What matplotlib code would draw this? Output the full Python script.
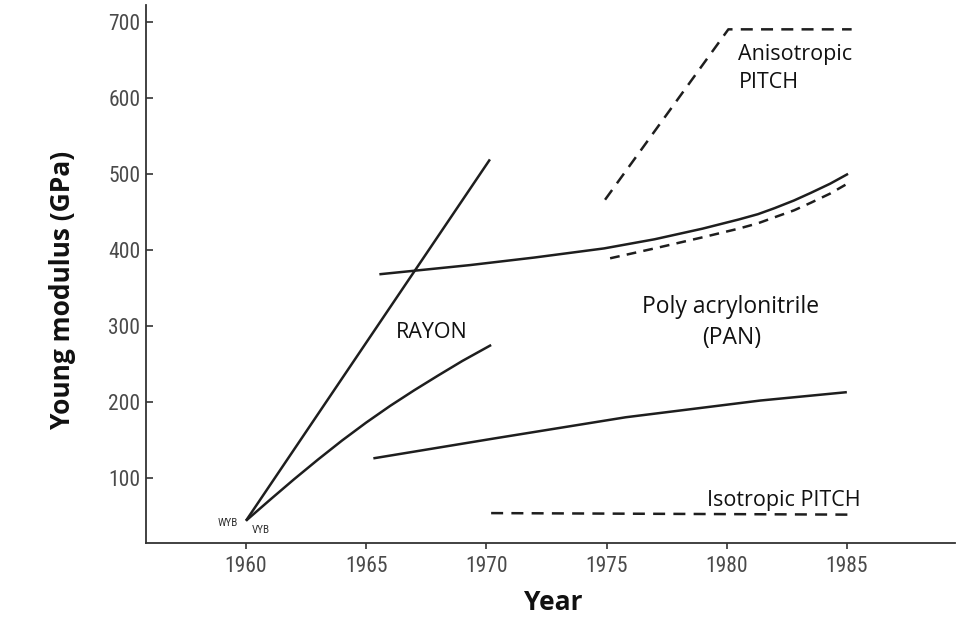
import matplotlib
matplotlib.use("Agg")
import matplotlib.pyplot as plt
from matplotlib import font_manager

# --- DATA ---
rayon_steep_year = [1960.0, 1970.15]
rayon_steep_E = [44, 519]

rayon_low_year = [1960.0, 1961.0, 1962.0, 1963.0, 1964.0, 1965.0, 1966.0, 1967.0, 1968.0, 1969.0, 1970.2]
rayon_low_E = [44, 71.5, 98.5, 124.5, 149.5, 173, 195, 215.5, 235, 254, 275]

pan_high_year = [1965.55, 1969.3, 1972.0, 1974.9, 1977.0, 1979.0, 1980.5, 1981.3, 1982.0,
                 1982.8, 1983.5, 1984.3, 1985.05]
pan_high_E = [368, 380, 390, 402, 414, 428, 440, 447, 455, 465, 475, 487, 500]

pan_high_dash_year = [1975.15, 1977.0, 1979.0, 1980.5, 1981.3, 1982.0, 1982.8, 1983.5, 1984.3, 1985.05]
pan_high_dash_E = [389, 402, 416.6, 428, 435, 443, 452, 462, 474, 487.6]

pan_low_year = [1965.3, 1970.3, 1975.8, 1981.4, 1985.0]
pan_low_E = [126, 152, 180, 202, 213]

aniso_year = [1974.94, 1980.07, 1985.2]
aniso_E = [466, 690, 690]

iso_year = [1970.2, 1985.05]
iso_E = [54, 52]

x_ticks = [1960, 1965, 1970, 1975, 1980, 1985]
y_ticks = [100, 200, 300, 400, 500, 600, 700]

# --- FONTS ---
installed = {f.name for f in font_manager.fontManager.ttflist}
tick_font, x_size, y_size = "Roboto", 13, 12.5
for cand in ["Roboto Condensed", "Liberation Sans Narrow", "Open Sans Condensed"]:
    if cand in installed:
        tick_font, x_size, y_size = cand, 15.5, 15.5
        break
if tick_font not in installed:
    tick_font, x_size, y_size = "DejaVu Sans", 12, 11.5
label_font = "Open Sans" if "Open Sans" in installed else "DejaVu Sans"
ink = "#1e1e1e"

fig = plt.figure(figsize=(9.57, 6.17), dpi=100)
ax = fig.add_axes([146 / 957, 1 - 543 / 617, 809 / 957, 538 / 617])

LW = 1.8
solid = dict(color=ink, lw=LW, solid_capstyle="butt")
dashed = dict(color=ink, lw=LW, linestyle=(0, (4.8, 3.3)), dash_capstyle="butt")

ax.plot(rayon_steep_year, rayon_steep_E, **solid)
ax.plot(rayon_low_year, rayon_low_E, **solid)
ax.plot(pan_high_year, pan_high_E, **solid)
ax.plot(pan_high_dash_year, pan_high_dash_E, color=ink, lw=LW, linestyle=(0, (3.9, 2.9)))
ax.plot(pan_low_year, pan_low_E, **solid)
ax.plot(aniso_year, aniso_E, **dashed)
ax.plot(iso_year, iso_E, **dashed)

ax.set_xlim(1955.84, 1989.5)
ax.set_ylim(14.7, 722)

for side in ["top", "right"]:
    ax.spines[side].set_visible(False)
for side in ["left", "bottom"]:
    ax.spines[side].set_color("#333333")
    ax.spines[side].set_linewidth(1.3)

ax.set_xticks(x_ticks)
ax.set_yticks(y_ticks)
ax.tick_params(axis="x", direction="out", length=4, width=1.2, color="#333333", pad=5)
ax.tick_params(axis="y", direction="in", length=5, width=1.2, color="#333333", pad=4)
for lab in ax.get_xticklabels():
    lab.set_fontfamily(tick_font)
    lab.set_fontsize(x_size)
    lab.set_color("#4a4a4a")
for lab in ax.get_yticklabels():
    lab.set_fontfamily(tick_font)
    lab.set_fontsize(y_size)
    lab.set_color("#4a4a4a")

# --- ANNOTATIONS ---
txt = dict(family=label_font, fontsize=15.5, color="#111111")
ax.text(1967.72, 291, "RAYON", ha="center", va="center", **txt)
ax.text(1980.17, 325, "Poly acrylonitrile", ha="center", va="center",
        family=label_font, fontsize=16.5, color="#111111")
ax.text(1980.21, 284, "(PAN)", ha="center", va="center",
        family=label_font, fontsize=16.5, color="#111111")
ax.text(1982.39, 71, "Isotropic PITCH", ha="center", va="center", **txt)
ax.text(1980.49, 657, "Anisotropic", ha="left", va="center", **txt)
ax.text(1980.49, 620, "PITCH", ha="left", va="center", **txt)
ax.text(1959.67, 41, "WYB", ha="right", va="center", family=tick_font, fontsize=8, color="#333333")
ax.text(1960.25, 32, "VYB", ha="left", va="center", family=tick_font, fontsize=8, color="#333333")

fig.text(553 / 957, 1 - 602 / 617, "Year", ha="center", va="center",
         family=label_font, fontsize=19, weight="bold", color="#111111")
fig.text(63 / 957, 1 - 290 / 617, "Young modulus (GPa)", ha="center", va="center",
         rotation=90, family=label_font, fontsize=19, weight="bold", color="#111111")

fig.savefig("out.png", dpi=100)
